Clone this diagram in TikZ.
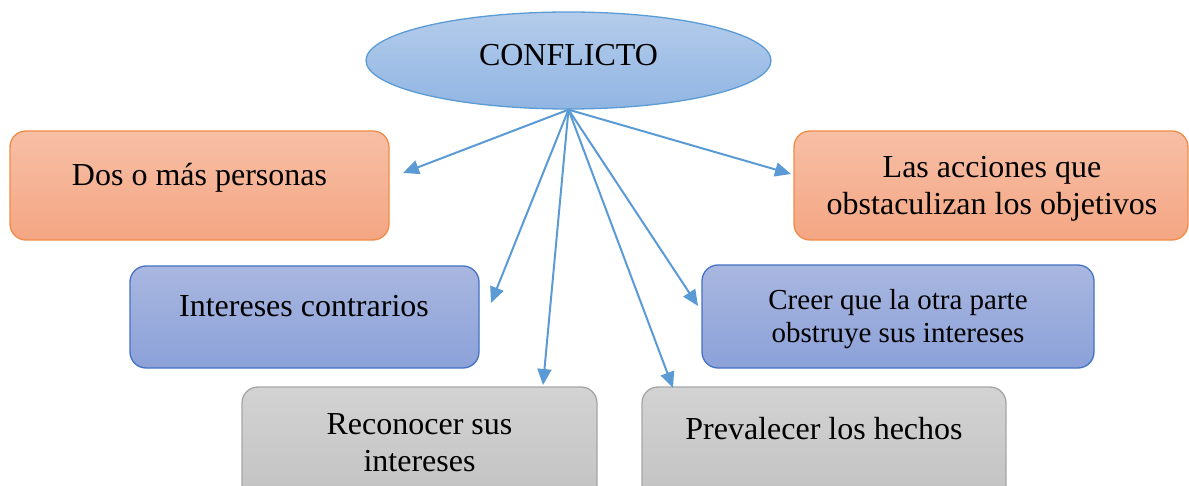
\documentclass[tikz,border=0pt]{standalone}
\usepackage{fontspec}
\setmainfont{Liberation Serif}
\usetikzlibrary{arrows.meta,shapes.geometric}
\definecolor{arrowblue}{HTML}{5B9BD5}
\definecolor{orangeTop}{HTML}{F7BFA6}
\definecolor{orangeBot}{HTML}{F4A683}
\definecolor{orangeLine}{HTML}{F08C45}
\definecolor{blueTop}{HTML}{A9B7E0}
\definecolor{blueBot}{HTML}{8BA1D8}
\definecolor{blueLine}{HTML}{4472C4}
\definecolor{grayTop}{HTML}{D3D3D3}
\definecolor{grayBot}{HTML}{C1C1C1}
\definecolor{grayLine}{HTML}{A5A5A5}
\definecolor{ellTop}{HTML}{B4CCEB}
\definecolor{ellBot}{HTML}{91B5E3}
\tikzset{
  boxbase/.style={rectangle, rounded corners=16pt, line width=1.3pt, inner sep=0pt},
  orangebox/.style={boxbase, draw=orangeLine, top color=orangeTop, bottom color=orangeBot},
  bluebox/.style={boxbase, draw=blueLine, top color=blueTop, bottom color=blueBot},
  graybox/.style={boxbase, draw=grayLine, top color=grayTop, bottom color=grayBot},
  txt/.style={anchor=base, inner sep=0pt, align=center, font=\fontsize{32}{37}\selectfont},
  smalltxt/.style={txt, font=\fontsize{29}{33}\selectfont},
  conn/.style={draw=arrowblue, line width=2pt, -{Triangle[length=16pt,width=14pt]}}
}
\begin{document}
\begin{tikzpicture}[x=1pt,y=-1pt]
\useasboundingbox (0,0) rectangle (1189,486);
\clip (0,0) rectangle (1189,486);
% central ellipse
\node[ellipse, draw=arrowblue, line width=1.3pt, top color=ellTop, bottom color=ellBot,
      minimum width=405pt, minimum height=97pt, inner sep=0pt] (c) at (568.5,60.5) {};
\node[txt] (ct) at (568.5,66) {CONFLICTO};
% boxes
\node[orangebox, minimum width=379pt, minimum height=109pt] (b1) at (199.5,185.5) {};
\node[orangebox, minimum width=394pt, minimum height=109pt] (b2) at (991,185.5) {};
\node[bluebox, minimum width=349pt, minimum height=102pt] (b3) at (304.5,317) {};
\node[bluebox, minimum width=392pt, minimum height=103pt] (b4) at (898,316.5) {};
\node[graybox, minimum width=355pt, minimum height=120pt] (b5) at (419.5,447) {};
\node[graybox, minimum width=364pt, minimum height=120pt] (b6) at (824,447) {};
% texts (base anchor = baseline of the last line)
\node[txt] (t1) at (199.5,186) {Dos o más personas};
\node[txt] (t2) at (992,215) {Las acciones que\\obstaculizan los objetivos};
\node[txt] (t3) at (304,317) {Intereses contrarios};
\node[smalltxt] (t4) at (898,343) {Creer que la otra parte\\obstruye sus intereses};
\node[txt] (t5) at (419.5,471) {Reconocer sus\\intereses};
\node[txt] (t6) at (824,439) {Prevalecer los hechos};
% arrow ends
\coordinate (e1) at (403,173);
\coordinate (e2) at (791,174);
\coordinate (e3) at (491,303);
\coordinate (e4) at (698,306);
\coordinate (e5) at (543,385);
\coordinate (e6) at (673,388);
\foreach \e in {e1,e2,e3,e4,e5,e6}{
  \draw[conn] (c.south) -- (\e);
}
\end{tikzpicture}
\end{document}
